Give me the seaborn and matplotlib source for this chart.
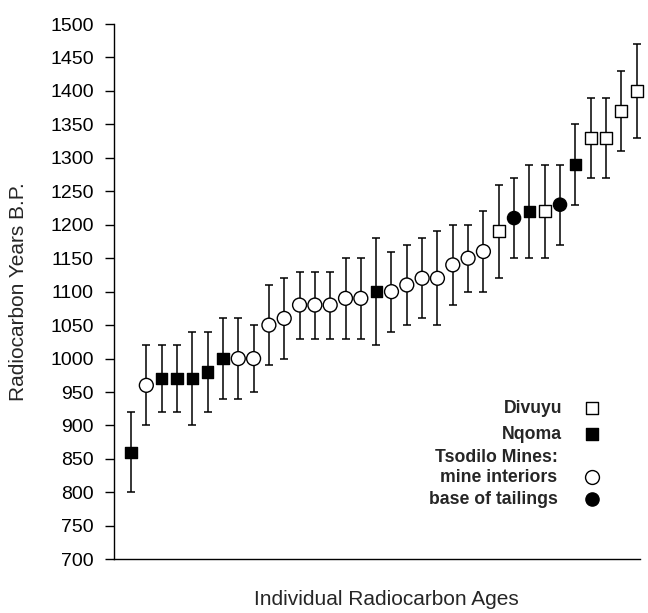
import matplotlib
matplotlib.use("Agg")
import matplotlib.pyplot as plt
import seaborn as sns
import pandas as pd
import numpy as np

# ---- data ----
ages = [860, 960, 970, 970, 970, 980, 1000, 1000, 1000, 1050, 1060, 1080, 1080, 1080,
        1090, 1090, 1100, 1100, 1110, 1120, 1120, 1140, 1150, 1160, 1190, 1210, 1220,
        1220, 1230, 1290, 1330, 1330, 1370, 1400]
errors = [60, 60, 50, 50, 70, 60, 60, 60, 50, 60, 60, 50, 50, 50,
          60, 60, 80, 60, 60, 60, 70, 60, 50, 60, 70, 60, 70,
          70, 60, 60, 60, 60, 60, 70]
groups = ["Nqoma", "mine interiors", "Nqoma", "Nqoma", "Nqoma", "Nqoma", "Nqoma",
          "mine interiors", "mine interiors", "mine interiors", "mine interiors",
          "mine interiors", "mine interiors", "mine interiors", "mine interiors",
          "mine interiors", "Nqoma", "mine interiors", "mine interiors", "mine interiors",
          "mine interiors", "mine interiors", "mine interiors", "mine interiors",
          "Divuyu", "base of tailings", "Nqoma", "Divuyu", "base of tailings", "Nqoma",
          "Divuyu", "Divuyu", "Divuyu", "Divuyu"]
yticks = list(range(700, 1501, 50))
legend_labels = ["Divuyu", "Nqoma", "Tsodilo Mines:", "mine interiors", "base of tailings"]

df = pd.DataFrame({"idx": np.arange(len(ages)), "age": ages, "err": errors, "group": groups})

sns.set_style("white")
plt.rcParams["font.family"] = ["Liberation Sans", "DejaVu Sans"]

fig = plt.figure(figsize=(6.48, 6.13), dpi=100)
ax = fig.add_axes([114 / 648, 0.0876, 526 / 648, 0.8732])

# error bars
ax.errorbar(df["idx"], df["age"], yerr=df["err"], fmt="none", ecolor="black",
            elinewidth=1.1, capsize=2.9, capthick=1.1, zorder=1, clip_on=False)

palette = {"Divuyu": "white", "Nqoma": "black", "mine interiors": "white",
           "base of tailings": "black"}
markers = {"Divuyu": "s", "Nqoma": "s", "mine interiors": "o", "base of tailings": "o"}
sizes = {"Divuyu": 75, "Nqoma": 66, "mine interiors": 100, "base of tailings": 90}

sns.scatterplot(data=df, x="idx", y="age", hue="group", style="group", size="group",
                palette=palette, markers=markers, sizes=sizes, edgecolor="black",
                linewidth=1.0, legend=False, ax=ax, zorder=3, clip_on=False)

ax.set_xlim(-1.11, 33.22)
ax.set_ylim(700, 1500)
ax.set_yticks(yticks)
ax.set_xticks([])
ax.tick_params(axis="y", direction="out", length=6.5, width=1.0, pad=8,
               labelsize=14, left=True, colors="black")
for s in ["top", "right"]:
    ax.spines[s].set_visible(False)
for s in ["left", "bottom"]:
    ax.spines[s].set_color("black")
    ax.spines[s].set_linewidth(1.0)

ax.set_xlabel("Individual Radiocarbon Ages", fontsize=15, labelpad=0)
ax.xaxis.set_label_coords(0.517, -0.057)
ax.set_ylabel("Radiocarbon Years B.P.", fontsize=15, labelpad=16)

# legend (custom, right-aligned labels with markers to the right)
leg_text_x = [0.852, 0.852, 0.843, 0.843, 0.843]
leg_y = [0.2826, 0.234, 0.191, 0.1537, 0.1126]
for lbl, tx, ty in zip(legend_labels, leg_text_x, leg_y):
    ax.text(tx, ty, lbl, transform=ax.transAxes, ha="right", va="center",
            fontsize=12.7, fontweight="bold")
mk_x = 0.909
ax.scatter([mk_x], [leg_y[0]], transform=ax.transAxes, marker="s", s=75,
           facecolor="white", edgecolor="black", linewidth=1.0, clip_on=False)
ax.scatter([mk_x], [leg_y[1]], transform=ax.transAxes, marker="s", s=66,
           facecolor="black", edgecolor="black", linewidth=1.0, clip_on=False)
ax.scatter([mk_x], [leg_y[3]], transform=ax.transAxes, marker="o", s=100,
           facecolor="white", edgecolor="black", linewidth=1.0, clip_on=False)
ax.scatter([mk_x], [leg_y[4]], transform=ax.transAxes, marker="o", s=90,
           facecolor="black", edgecolor="black", linewidth=1.0, clip_on=False)

fig.savefig("out.png", dpi=100)
